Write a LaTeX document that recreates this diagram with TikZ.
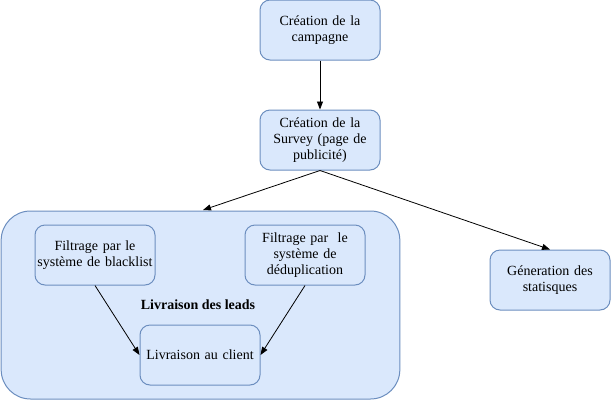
\documentclass[tikz,border=0pt]{standalone}
\usepackage{fontspec}
\setmainfont{Liberation Serif}
\usetikzlibrary{arrows.meta}
\definecolor{boxfill}{HTML}{DAE8FC}
\definecolor{boxdraw}{HTML}{6C8EBF}
\begin{document}
\begin{tikzpicture}[x=0.75pt,y=-0.75pt,
  box/.style={draw=boxdraw,fill=boxfill,rounded corners=7.5pt,line width=0.75pt,
    minimum width=90pt,minimum height=45pt,text width=88pt,align=center,
    inner sep=0pt,font=\fontsize{10.5pt}{12pt}\selectfont},
  conn/.style={-{Triangle[length=6pt,width=4.5pt]},line width=0.6pt,black}]
\useasboundingbox (0,0) rectangle (611,401);
\node[draw=boxdraw,fill=boxfill,rounded corners=22pt,line width=0.75pt,
  minimum width=299pt,minimum height=141pt,inner sep=0pt] (cont) at (200.5,305) {};
\node[font=\bfseries\fontsize{10.5pt}{12pt}\selectfont] (lbl) at (198,305) {Livraison des leads};
\node[box] (camp) at (320,30) {Création de la\\campagne};
\node[box] (surv) at (320,140) {Création de la\\Survey (page de\\publicité)};
\node[box] (black) at (95,255) {Filtrage par le\\système de blacklist};
\node[box] (dedup) at (305,255) {Filtrage par\ \ le\\système de\\déduplication};
\node[box] (client) at (200,355) {Livraison au client};
\node[box] (gen) at (550,280) {Géneration des\\statisques};
\coordinate (conttop) at (203,210);
\draw[conn] (camp.south) -- (surv.north);
\draw[conn] (surv.south) -- (conttop);
\draw[conn] (surv.south) -- (gen.north);
\draw[conn] (black.south) -- (client.west);
\draw[conn] (dedup.south) -- (client.east);
\end{tikzpicture}
\end{document}
